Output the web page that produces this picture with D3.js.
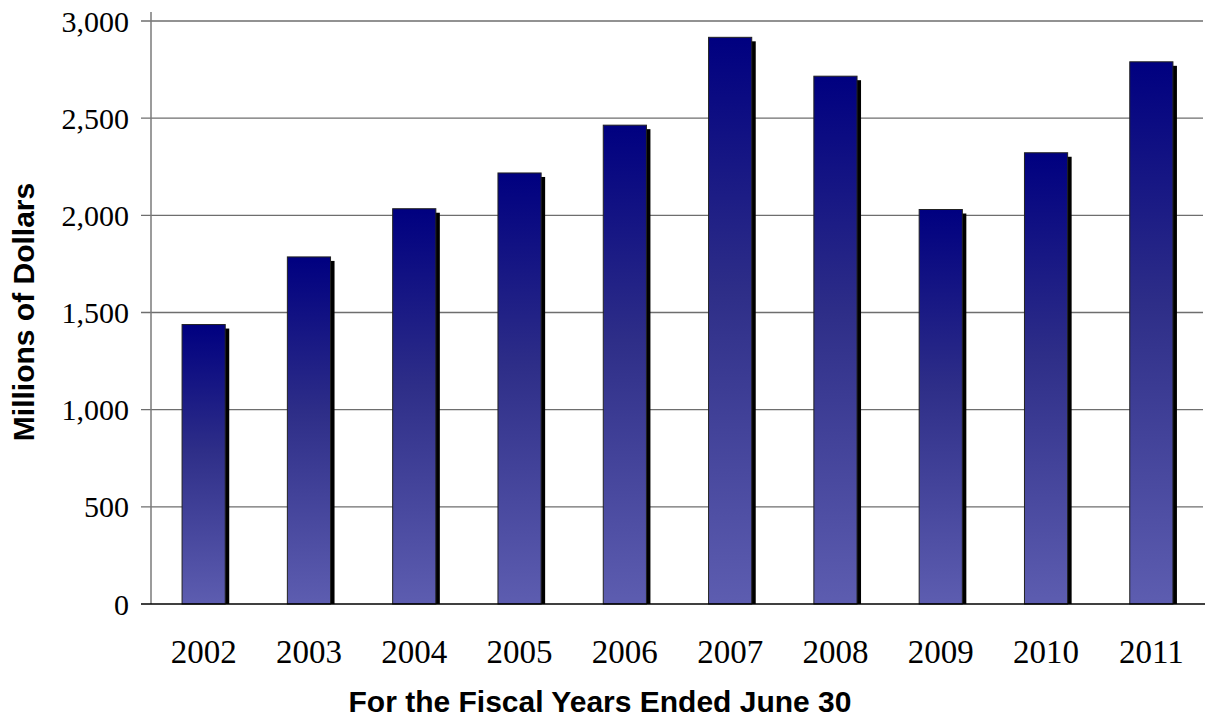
<!DOCTYPE html>
<html>
<head>
<meta charset="utf-8">
<script src="https://cdn.jsdelivr.net/npm/d3@7"></script>
<style>
  body { margin: 0; background: #fff; }
  svg { display: block; }
</style>
</head>
<body>
<svg id="chart" width="1208" height="719"></svg>
<script>
// Fiscal years and amounts (millions of dollars)
const years = ["2002", "2003", "2004", "2005", "2006", "2007", "2008", "2009", "2010", "2011"];
const amounts = [1438, 1786, 2034, 2218, 2464, 2916, 2716, 2030, 2322, 2790];
const yTicks = [0, 500, 1000, 1500, 2000, 2500, 3000];

const svg = d3.select("#chart");
const margin = { left: 151, right: 4, top: 21, bottom: 115 };
const W = 1208, H = 719;

const x = d3.scaleBand().domain(years).range([margin.left, W - margin.right]).paddingInner(0.59).paddingOuter(0.295);
const y = d3.scaleLinear().domain([0, 3000]).range([H - margin.bottom, margin.top]);

// Vertical gradient for the bars
const defs = svg.append("defs");
const grad = defs.append("linearGradient").attr("id", "barGrad")
  .attr("x1", 0).attr("y1", 0).attr("x2", 0).attr("y2", 1);
grad.append("stop").attr("offset", "0%").attr("stop-color", "#000080");
grad.append("stop").attr("offset", "45%").attr("stop-color", "#2e2e88");
grad.append("stop").attr("offset", "100%").attr("stop-color", "#5d5db0");

// Gridlines with short ticks left of the axis
svg.append("g")
  .selectAll("line")
  .data(yTicks.filter(d => d > 0))
  .join("line")
  .attr("x1", margin.left - 10).attr("x2", W - 5)
  .attr("y1", d => y(d)).attr("y2", d => y(d))
  .attr("stroke", "#6e6e6e").attr("stroke-width", 1.3);

// Y tick labels
svg.append("g")
  .selectAll("text")
  .data(yTicks)
  .join("text")
  .attr("x", 129).attr("y", d => y(d))
  .attr("dy", "0.35em")
  .attr("text-anchor", "end")
  .attr("font-family", "'Liberation Serif', 'Times New Roman', serif")
  .attr("font-size", 30)
  .attr("fill", "#000")
  .text(d => d3.format(",")(d));

// Bars: drop shadow then gradient body
const bars = svg.append("g");
bars.selectAll("rect.shadow")
  .data(years)
  .join("rect").attr("class", "shadow")
  .attr("x", (d) => x(d) + 4)
  .attr("y", (d, i) => y(amounts[i]) + 4)
  .attr("width", x.bandwidth())
  .attr("height", (d, i) => y(0) - y(amounts[i]) - 4)
  .attr("fill", "#000");

bars.selectAll("rect.bar")
  .data(years)
  .join("rect").attr("class", "bar")
  .attr("x", d => x(d))
  .attr("y", (d, i) => y(amounts[i]))
  .attr("width", x.bandwidth())
  .attr("height", (d, i) => y(0) - y(amounts[i]))
  .attr("fill", "url(#barGrad)")
  .attr("stroke", "#222")
  .attr("stroke-width", 1);

// Y axis line and baseline
svg.append("line")
  .attr("x1", margin.left).attr("x2", margin.left)
  .attr("y1", margin.top - 9).attr("y2", y(0))
  .attr("stroke", "#7a7a7a").attr("stroke-width", 1.5);
svg.append("line")
  .attr("x1", margin.left - 10).attr("x2", W - 3)
  .attr("y1", y(0)).attr("y2", y(0))
  .attr("stroke", "#000").attr("stroke-width", 1.3);

// X tick labels
svg.append("g")
  .selectAll("text")
  .data(years)
  .join("text")
  .attr("x", d => x(d) + x.bandwidth() / 2)
  .attr("y", 663)
  .attr("text-anchor", "middle")
  .attr("font-family", "'Liberation Serif', 'Times New Roman', serif")
  .attr("font-size", 33)
  .attr("fill", "#000")
  .text(d => d);

// Axis titles
svg.append("text")
  .attr("x", 600).attr("y", 712)
  .attr("text-anchor", "middle")
  .attr("font-family", "'Liberation Sans', Arial, sans-serif")
  .attr("font-weight", "bold")
  .attr("font-size", 30)
  .text("For the Fiscal Years Ended June 30");

svg.append("text")
  .attr("transform", "translate(34,312) rotate(-90)")
  .attr("text-anchor", "middle")
  .attr("font-family", "'Liberation Sans', Arial, sans-serif")
  .attr("font-weight", "bold")
  .attr("font-size", 30)
  .text("Millions of Dollars");
</script>
</body>
</html>
